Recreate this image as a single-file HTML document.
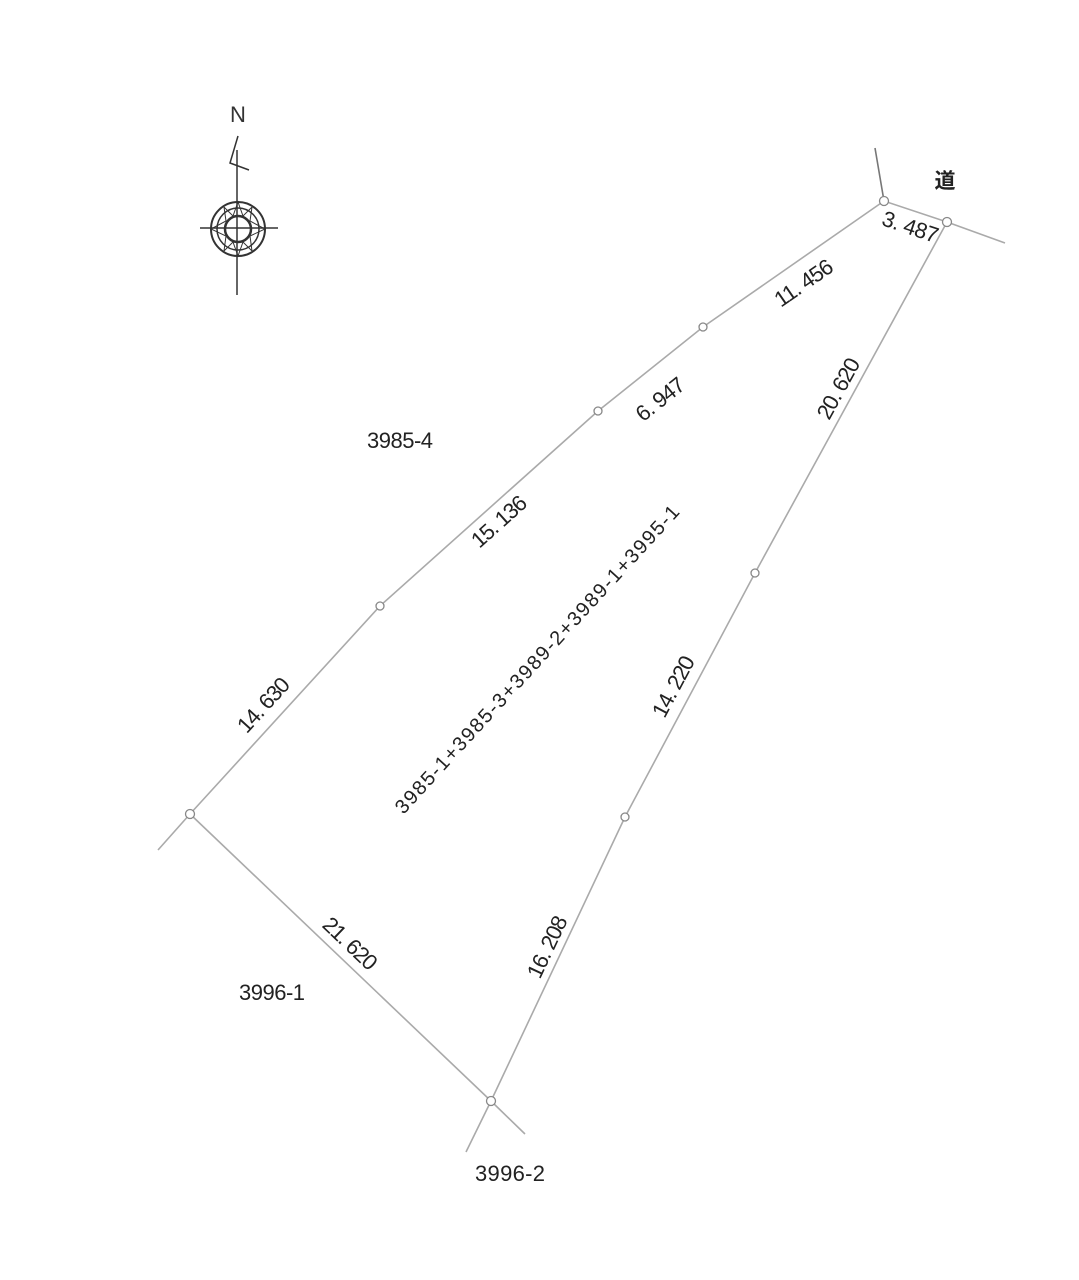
<!DOCTYPE html>
<html><head><meta charset="utf-8"><style>
html,body{margin:0;padding:0;background:#fff;}
svg{display:block}
text{font-family:"Liberation Sans","Noto Sans CJK JP",sans-serif;fill:#222;font-size:22px;}
</style></head><body>
<svg width="1079" height="1280" viewBox="0 0 1079 1280" xmlns="http://www.w3.org/2000/svg">
<g stroke="#aaa" stroke-width="1.6" fill="none">
<polyline points="884,201 703,327 598,411 380,606 190,814"/>
<line x1="884" y1="201" x2="947" y2="222"/>
<line x1="947" y1="222" x2="1005" y2="243"/>
<line x1="884" y1="201" x2="875" y2="148" stroke="#777"/>
<polyline points="947,222 755,573 625,817 491,1101"/>
<line x1="190" y1="814" x2="491" y2="1101"/>
<line x1="190" y1="814" x2="158" y2="850"/>
<line x1="491" y1="1101" x2="466" y2="1152"/>
<line x1="491" y1="1101" x2="525" y2="1134"/>
</g>
<g stroke="#888" stroke-width="1.3" fill="#fff">
<circle cx="884" cy="201" r="4.5"/>
<circle cx="947" cy="222" r="4.5"/>
<circle cx="703" cy="327" r="4"/>
<circle cx="598" cy="411" r="4"/>
<circle cx="380" cy="606" r="4"/>
<circle cx="190" cy="814" r="4.5"/>
<circle cx="755" cy="573" r="4"/>
<circle cx="625" cy="817" r="4"/>
<circle cx="491" cy="1101" r="4.5"/>
</g>
<!-- compass -->
<g stroke="#333" stroke-width="1.5" fill="none">
<line x1="237" y1="150" x2="237" y2="295"/>
<line x1="200" y1="228" x2="278" y2="228"/>
<polyline points="238,136 230,163 249,170"/>
<circle cx="238" cy="229" r="27" stroke-width="2"/>
<circle cx="238" cy="229" r="21"/>
<circle cx="238" cy="229" r="13" stroke-width="2.5"/>
<polygon points="238,202 243,216 252,207 250,221 265,229 250,236 252,251 243,242 238,256 233,242 224,251 226,236 211,229 226,221 224,207 233,216" stroke-width="1"/>
</g>
<text x="238" y="122" text-anchor="middle" style="font-size:22px;fill:#333">N</text>
<text x="945" y="188" text-anchor="middle" style="font-weight:bold;font-size:21px">道</text>
<text x="400" y="448" text-anchor="middle" textLength="66">3985-4</text>
<text x="272" y="1000" text-anchor="middle" textLength="66">3996-1</text>
<text x="510" y="1181" text-anchor="middle" textLength="70">3996-2</text>
<g text-anchor="middle">
<text transform="translate(908,234) rotate(18.5)" textLength="58">3. 487</text>
<text transform="translate(808,289) rotate(-34.8)" textLength="66">11. 456</text>
<text transform="translate(665,405) rotate(-38.7)" textLength="56">6. 947</text>
<text transform="translate(504,527) rotate(-41.8)" textLength="66">15. 136</text>
<text transform="translate(269,710) rotate(-47.6)" textLength="66">14. 630</text>
<text transform="translate(845,392) rotate(-61.3)" textLength="66">20. 620</text>
<text transform="translate(680,690) rotate(-62)" textLength="66">14. 220</text>
<text transform="translate(554,950) rotate(-64.7)" textLength="66">16. 208</text>
<text transform="translate(345,949) rotate(43.6)" textLength="66">21. 620</text>
<text transform="translate(542,664) rotate(-47.5)" textLength="410" style="font-size:20px">3985-1+3985-3+3989-2+3989-1+3995-1</text>
</g>
</svg>
</body></html>
